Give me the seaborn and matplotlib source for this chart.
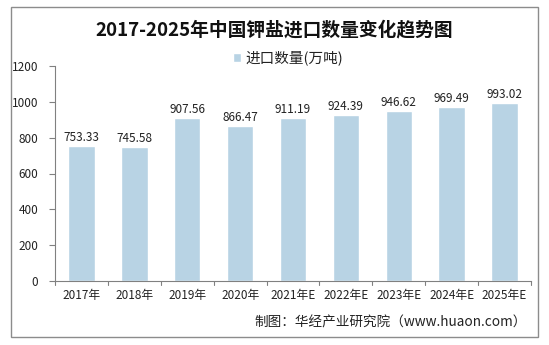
import matplotlib
matplotlib.use("Agg")
import matplotlib.pyplot as plt
import seaborn as sns
import pandas as pd
from matplotlib.patches import Rectangle

years = ["2017年", "2018年", "2019年", "2020年", "2021年E", "2022年E", "2023年E", "2024年E", "2025年E"]
imports = [753.33, 745.58, 907.56, 866.47, 911.19, 924.39, 946.62, 969.49, 993.02]
y_ticks = [0, 200, 400, 600, 800, 1000, 1200]

title = "2017-2025年中国钾盐进口数量变化趋势图"
series_name = "进口数量(万吨)"
source = "制图：华经产业研究院（www.huaon.com）"

sns.set_theme(style="white")
plt.rcParams["font.family"] = ["Noto Sans CJK SC", "DejaVu Sans"]

bar_color = "#B8D3E4"
df = pd.DataFrame({"year": years, "value": imports})

fig = plt.figure(figsize=(5.49, 3.45), dpi=100)
ax = fig.add_axes([55 / 549, 1 - 281 / 345, (531 - 55) / 549, (281 - 66) / 345])

sns.barplot(data=df, x="year", y="value", color=bar_color, width=0.5, ax=ax,
            saturation=1, label=series_name)

for i, v in enumerate(imports):
    ax.text(i, v + 12, f"{v:.2f}", ha="center", va="bottom", fontsize=8.5, color="#222222")

ax.set_ylim(0, 1200)
ax.set_yticks(y_ticks)
ax.set_yticklabels([str(t) for t in y_ticks], fontsize=8.5, color="#222222")
ax.set_xlim(-0.5, len(years) - 0.5)
ax.set_xticks(range(len(years)))
ax.set_xticklabels(years, fontsize=8.5, color="#222222")
ax.tick_params(axis="x", length=0, pad=6)
ax.tick_params(axis="y", length=4, width=0.8, color="#808080", direction="out", left=True, pad=8)
for b in [i + 0.5 for i in range(-1, len(years))]:
    ax.plot([b, b], [0, -0.018], transform=ax.get_xaxis_transform(), color="#808080",
            lw=0.8, clip_on=False)
ax.set_xlabel("")
ax.set_ylabel("")
for s in ["top", "right"]:
    ax.spines[s].set_visible(False)
for s in ["left", "bottom"]:
    ax.spines[s].set_color("#808080")
    ax.spines[s].set_linewidth(0.8)

leg = ax.legend(loc="lower center", bbox_to_anchor=(0.49, 0.975), frameon=False,
                fontsize=10.5, handlelength=0.55, handleheight=0.55, handletextpad=0.3,
                borderaxespad=0)
for t in leg.get_texts():
    t.set_color("#222222")

fig.text(0.5, 1 - 30 / 345, title, ha="center", va="center", fontsize=13.5,
         fontweight="bold", color="#111111")
fig.text(527 / 549, 1 - 323 / 345, source, ha="right", va="center", fontsize=9.8,
         color="#222222")

fig.patches.append(Rectangle((11 / 549, 1 - 337 / 345), 527 / 549, 330 / 345,
                             transform=fig.transFigure, fill=False,
                             edgecolor="#8c8c8c", lw=1.0))

fig.savefig("out.png", dpi=100)
